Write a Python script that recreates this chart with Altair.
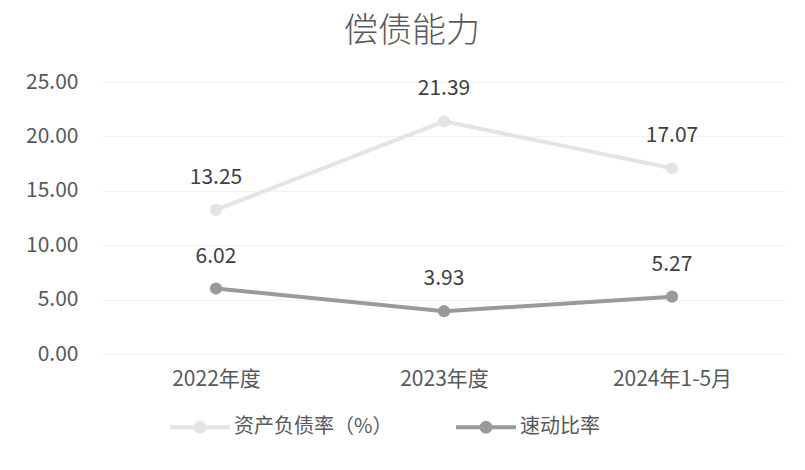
import altair as alt
import pandas as pd

categories = ["2022年度", "2023年度", "2024年1-5月"]
series_names = ["资产负债率（%）", "速动比率"]
debt_ratio = [13.25, 21.39, 17.07]
quick_ratio = [6.02, 3.93, 5.27]
series_colors = ["#e4e4e4", "#9a9a9a"]
y_ticks = [0, 5, 10, 15, 20, 25]

rows = []
for name, vals in zip(series_names, [debt_ratio, quick_ratio]):
    for c, v in zip(categories, vals):
        rows.append({"period": c, "series": name, "value": v, "label": f"{v:.2f}"})
df = pd.DataFrame(rows)

FONT = "Noto Sans CJK SC"

x = alt.X(
    "period:N",
    sort=categories,
    scale=alt.Scale(type="point", padding=0.5),
    axis=alt.Axis(title=None, labelAngle=0, labelFontSize=21, labelFont=FONT,
                  labelColor="#595959", labelPadding=14, domain=False, ticks=False, grid=False),
)
y = alt.Y(
    "value:Q",
    scale=alt.Scale(domain=[0, 25], nice=False),
    axis=alt.Axis(title=None, values=y_ticks, format=".2f", labelFontSize=21, labelFont=FONT,
                  labelColor="#595959", labelPadding=24, domain=False, ticks=False,
                  grid=True, gridColor="#f2f2f2", gridWidth=1),
)
legend_symbol = "M-1,0L1,0M-0.15,0A0.15,0.15,0,1,1,0.15,0A0.15,0.15,0,1,1,-0.15,0Z"
color = alt.Color(
    "series:N",
    sort=series_names,
    scale=alt.Scale(domain=series_names, range=series_colors),
    legend=alt.Legend(
        title=None, orient="none", legendX=66, legendY=313, direction="horizontal",
        symbolType=legend_symbol, symbolSize=3600, symbolStrokeWidth=4,
        labelFontSize=20, labelFont=FONT, labelColor="#595959", labelOffset=2,
        columnPadding=55,
    ),
)

base = alt.Chart(df).encode(x=x, y=y, color=color)
lines = base.mark_line(strokeWidth=4)
points = base.mark_point(filled=True, size=150, opacity=1)
labels = alt.Chart(df).mark_text(
    dy=-32, fontSize=21, font=FONT, color="#404040"
).encode(x=x, y=y, text="label:N")

chart = alt.layer(lines, points, labels).properties(
    width=684,
    height=272,
    autosize=alt.AutoSizeParams(type="none"),
    padding={"left": 102, "top": 82, "right": 19, "bottom": 116},
    title=alt.TitleParams("偿债能力", fontSize=34, font=FONT, fontWeight=300,
                          color="#595959", anchor="middle", dx=-32, offset=22),
    background="white",
).configure_view(stroke=None)

chart.save("out.html", embed_options={"renderer": "svg", "actions": False})
